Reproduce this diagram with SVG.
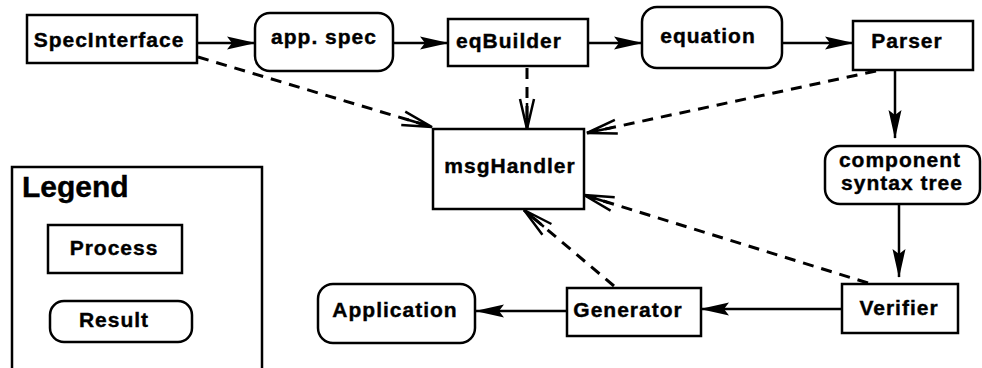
<svg xmlns="http://www.w3.org/2000/svg" width="982" height="368" viewBox="0 0 982 368">
  <style>
    .box { fill: #fff; stroke: #000; stroke-width: 2.5; }
    .lbl { font-family: "Liberation Sans", Arial, sans-serif; font-weight: bold; font-size: 21px; letter-spacing: 1px; text-anchor: middle; fill: #000; stroke: #000; stroke-width: 0.4; }
    .flow { stroke: #000; stroke-width: 2.5; fill: none; marker-end: url(#solid); }
    .msg { stroke: #000; stroke-width: 3; fill: none; stroke-dasharray: 11 8; marker-end: url(#open); }
  </style>
  <defs>
    <marker id="solid" markerUnits="userSpaceOnUse" markerWidth="29" markerHeight="14" viewBox="0 0 29 14" refX="28" refY="7" orient="auto">
      <path d="M0,0.5 L29,7 L0,13.5 L5,7 z" fill="#000"/>
    </marker>
    <marker id="open" markerUnits="userSpaceOnUse" markerWidth="34" markerHeight="18" viewBox="0 0 34 18" refX="32" refY="9" orient="auto">
      <path d="M2,2 L32,9 L2,16 M6,9 H32" fill="none" stroke="#000" stroke-width="2.5"/>
    </marker>
  </defs>

  <!-- connectors -->
  <g id="connectors">
    <line class="flow" x1="197" y1="43" x2="255" y2="43"/>
    <line class="flow" x1="393" y1="43" x2="448" y2="43"/>
    <line class="flow" x1="588" y1="43" x2="642" y2="43"/>
    <line class="flow" x1="782" y1="43" x2="853" y2="43"/>
    <line class="flow" x1="895" y1="70" x2="895" y2="138"/>
    <line class="flow" x1="899" y1="204" x2="899" y2="277"/>
    <line class="flow" x1="842" y1="309" x2="701" y2="309"/>
    <line class="flow" x1="567" y1="311" x2="476" y2="311"/>
    <line class="msg" x1="198" y1="57" x2="432" y2="127"/>
    <line class="msg" x1="527" y1="68" x2="527" y2="129"/>
    <line class="msg" x1="876" y1="71" x2="587" y2="133"/>
    <line class="msg" x1="868" y1="283" x2="584" y2="195"/>
    <line class="msg" x1="614" y1="286" x2="524" y2="210"/>
  </g>

  <g id="SpecInterface">
    <rect class="box" x="27" y="15" width="170" height="48"/>
    <text class="lbl" x="109" y="47">SpecInterface</text>
  </g>
  <g id="appSpec">
    <rect class="box" x="255" y="13" width="138" height="58" rx="15"/>
    <text class="lbl" x="324" y="44">app. spec</text>
  </g>
  <g id="eqBuilder">
    <rect class="box" x="448" y="19" width="140" height="47"/>
    <text class="lbl" x="509" y="48">eqBuilder</text>
  </g>
  <g id="equation">
    <rect class="box" x="642" y="7" width="140" height="61" rx="15"/>
    <text class="lbl" x="708" y="43">equation</text>
  </g>
  <g id="Parser">
    <rect class="box" x="853" y="21" width="120" height="49"/>
    <text class="lbl" x="907" y="48">Parser</text>
  </g>
  <g id="msgHandler">
    <rect class="box" x="433" y="129" width="151" height="80"/>
    <text class="lbl" x="510" y="173">msgHandler</text>
  </g>
  <g id="componentSyntaxTree">
    <rect class="box" x="825" y="146" width="155" height="58" rx="15"/>
    <text class="lbl" x="900" y="167">component</text>
    <text class="lbl" x="902" y="190">syntax tree</text>
  </g>
  <g id="Verifier">
    <rect class="box" x="842" y="284" width="116" height="49"/>
    <text class="lbl" x="899" y="315">Verifier</text>
  </g>
  <g id="Generator">
    <rect class="box" x="567" y="288" width="134" height="48"/>
    <text class="lbl" x="628" y="317">Generator</text>
  </g>
  <g id="Application">
    <rect class="box" x="318" y="284" width="157" height="59" rx="15"/>
    <text class="lbl" x="395" y="317">Application</text>
  </g>

  <g id="Legend">
    <path d="M12,370 V167 H262 V370" fill="none" stroke="#000" stroke-width="2.5"/>
    <text x="22" y="197" font-family="'Liberation Sans', Arial, sans-serif" font-weight="bold" font-size="30" stroke="#000" stroke-width="0.4">Legend</text>
    <g id="legendProcess">
      <rect class="box" x="48" y="225" width="134" height="48"/>
      <text class="lbl" x="114" y="255">Process</text>
    </g>
    <g id="legendResult">
      <rect class="box" x="50" y="301" width="142" height="41" rx="14"/>
      <text class="lbl" x="114" y="327">Result</text>
    </g>
  </g>
</svg>
